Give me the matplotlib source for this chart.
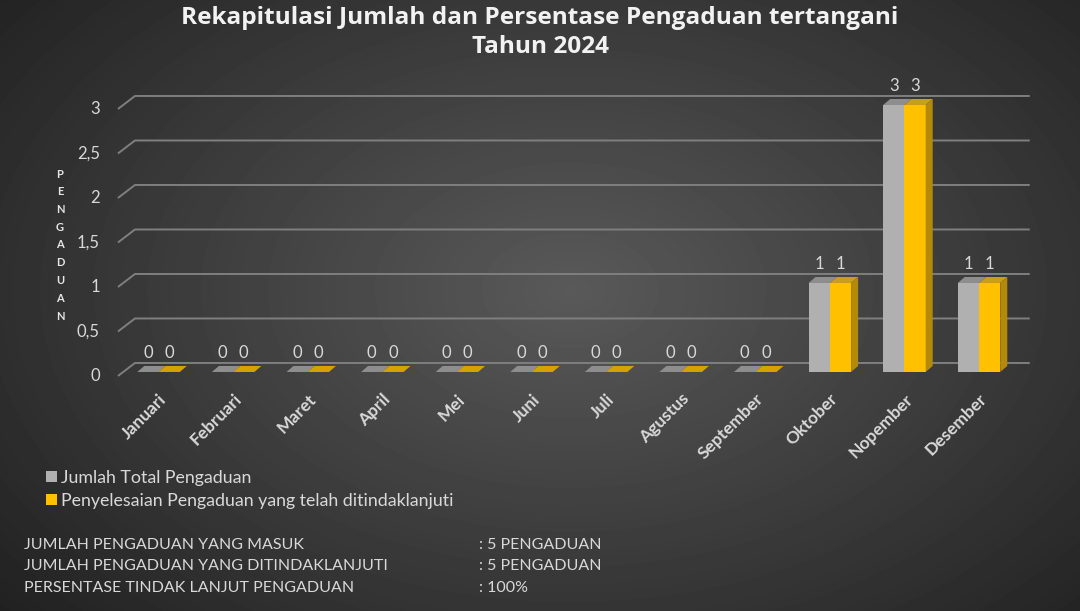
import numpy as np
import matplotlib.pyplot as plt
from matplotlib.patches import Polygon

plt.rcParams['font.family'] = ['Lato', 'DejaVu Sans']

bulan = ['Januari', 'Februari', 'Maret', 'April', 'Mei', 'Juni', 'Juli',
         'Agustus', 'September', 'Oktober', 'Nopember', 'Desember']
jumlah_total = [0, 0, 0, 0, 0, 0, 0, 0, 0, 1, 3, 1]
ditindaklanjuti = [0, 0, 0, 0, 0, 0, 0, 0, 0, 1, 3, 1]
nama_seri = ['Jumlah Total Pengaduan',
             'Penyelesaian Pengaduan yang telah ditindaklanjuti']
y_ticks = [0, 0.5, 1, 1.5, 2, 2.5, 3]
y_tick_labels = ['0', '0,5', '1', '1,5', '2', '2,5', '3']
judul = ['Rekapitulasi Jumlah dan Persentase Pengaduan tertangani',
         'Tahun 2024']
ringkasan_label = ['JUMLAH PENGADUAN YANG MASUK',
                   'JUMLAH PENGADUAN YANG DITINDAKLANJUTI',
                   'PERSENTASE TINDAK LANJUT PENGADUAN']
ringkasan_nilai = [': 5 PENGADUAN', ': 5 PENGADUAN', ': 100%']

W, H = 1080, 611
fig = plt.figure(figsize=(W / 100, H / 100), dpi=100)

# dark radial background
bg = fig.add_axes([0, 0, 1, 1], zorder=-10)
yy, xx = np.mgrid[0:H, 0:W]
r = np.sqrt(((xx - 570) / 720.0) ** 2 + ((yy - 290) / 470.0) ** 2)
shade = np.clip(0.35 - 0.21 * r, 0.12, 0.35)
bg.imshow(shade, cmap='gray', vmin=0, vmax=1, extent=[0, 1, 0, 1], aspect='auto')
bg.axis('off')

ax = fig.add_axes([0.0950, 0.3475, 0.8633, 0.5098])
ax.set_xlim(-0.75, 11.75)
ax.set_ylim(-0.3, 3.2)
ax.axis('off')

bb = ax.get_window_extent()
sx = bb.width / 12.5   # pixel per kategori
sy = bb.height / 3.5   # pixel per satuan


def dxp(p):
    return p / sx


def dyp(p):
    return p / sy


teks = '#d9d9d9'
x = np.arange(len(bulan))
w = 0.285

# gridlines on the back wall + small depth ticks
for v, lbl in zip(y_ticks, y_tick_labels):
    ax.plot([-0.544, -0.316, 11.68], [v - dyp(4), v + dyp(9), v + dyp(9)],
            color='#7f7f7f', lw=1.4, zorder=1, solid_capstyle='butt')
    ax.text(-0.544 - dxp(18), v - dyp(4), lbl, ha='right', va='center',
            color=teks, fontsize=12)

# front faces
bar1 = ax.bar(x - w / 2, jumlah_total, w, color='#b0b0b0', lw=0, zorder=3)
bar2 = ax.bar(x + w / 2, ditindaklanjuti, w, color='#ffc000', lw=0, zorder=3)

# top and side faces (pseudo 3D)
ddx, ddy = dxp(7), dyp(6)
for xi, a, b in zip(x, jumlah_total, ditindaklanjuti):
    ax.add_patch(Polygon([(xi - w, a), (xi, a), (xi + ddx, a + ddy), (xi - w + ddx, a + ddy)],
                         closed=True, color='#8e8e8e', lw=0, zorder=4))
    ax.add_patch(Polygon([(xi, b), (xi + w, b), (xi + w + ddx, b + ddy), (xi + ddx, b + ddy)],
                         closed=True, color='#c99e1a' if b > 0 else '#d6a200', lw=0, zorder=4))
    if b > 0:
        ax.add_patch(Polygon([(xi + w, 0), (xi + w + ddx, ddy), (xi + w + ddx, b + ddy), (xi + w, b)],
                             closed=True, color='#b38a0a', lw=0, zorder=4))
    ax.text(xi - w / 2, a + dyp(19), f'{a}', ha='center', va='center',
            color=teks, fontsize=12, zorder=5)
    ax.text(xi + w / 2, b + dyp(19), f'{b}', ha='center', va='center',
            color=teks, fontsize=12, zorder=5)

# month labels
for xi, nama in zip(x, bulan):
    ax.text(xi, -dyp(19), nama, rotation=45, rotation_mode='anchor',
            ha='right', va='top', fontweight='bold', fontsize=12.5, color=teks)

# vertical axis title
fig.text(60 / W, 1 - 245 / H, '\n'.join('PENGADUAN'), ha='center', va='center',
         fontsize=8, fontweight='bold', color='#e6e6e6', linespacing=1.75)

# title
for k, yc in enumerate([18, 47]):
    fig.text(0.5, 1 - yc / H, judul[k], ha='center', va='center', fontsize=17.6,
             fontweight='bold', color='#f2f2f2', family=['Open Sans', 'DejaVu Sans'])

# legend
fig.legend([bar1, bar2], nama_seri, loc='upper left',
           bbox_to_anchor=(46 / W, 1 - 470 / H), frameon=False, fontsize=12.8,
           labelcolor=teks, handlelength=0.6, handleheight=0.6,
           handletextpad=0.25, labelspacing=0.4, borderaxespad=0, borderpad=0)

# summary
for i, (lab, nil) in enumerate(zip(ringkasan_label, ringkasan_nilai)):
    yc = 1 - (545 + 21.5 * i) / H
    fig.text(24 / W, yc, lab, va='center', fontsize=11.5, color=teks)
    fig.text(479 / W, yc, nil, va='center', fontsize=11.5, color=teks)

fig.savefig('out.png', dpi=100)
